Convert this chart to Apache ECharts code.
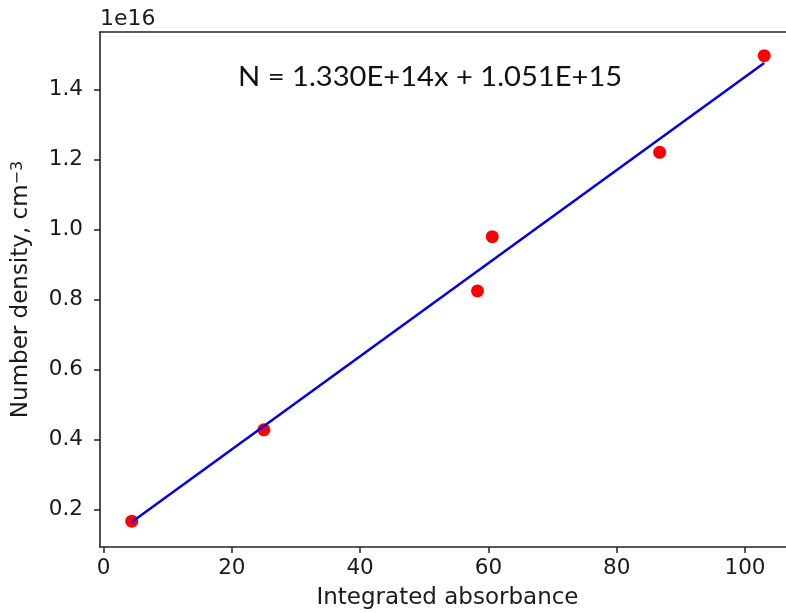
<!DOCTYPE html>
<html>
<head>
<meta charset="utf-8">
<script src="https://cdn.jsdelivr.net/npm/echarts@6/dist/echarts.min.js"></script>
<style>
  html, body { margin: 0; padding: 0; background: #fff; }
  #chart { width: 786px; height: 613px; }
</style>
</head>
<body>
<div id="chart"></div>
<script>
// Measured samples: integrated absorbance vs number density (in units of 1e16 cm^-3)
const absorbance = [4.4, 25.0, 58.3, 60.6, 86.7, 103.0];
const density = [0.166, 0.427, 0.824, 0.979, 1.220, 1.496];

// Linear fit N = slope * x + intercept (cm^-3)
const fitSlope = 1.330e14;
const fitIntercept = 1.051e15;
const exponentScale = 1e16;

const xTicks = [0, 20, 40, 60, 80, 100];
const yTicks = [0.2, 0.4, 0.6, 0.8, 1.0, 1.2, 1.4];

const fitLabel = 'N = 1.330E+14x + 1.051E+15';

const xMinData = Math.min(...absorbance);
const xMaxData = Math.max(...absorbance);
const fitLine = [xMinData, xMaxData].map(x => [x, (fitSlope * x + fitIntercept) / exponentScale]);

const ink = '#1a1a1a';
const spine = { show: true, onZero: false, lineStyle: { color: '#222', width: 1.6 } };
const tickFont = { fontFamily: 'DejaVu Sans', fontSize: 21.5, color: ink };
const titleFont = { fontFamily: 'DejaVu Sans', fontSize: 23, color: ink };
const xRange = { min: -0.55, max: 107.8 };

const chart = echarts.init(document.getElementById('chart'), null, { renderer: 'canvas' });
chart.setOption({
  animation: false,
  backgroundColor: '#ffffff',
  grid: {
    left: 100, top: 32, right: -9, bottom: 66,
    containLabel: false,
    outerBoundsMode: 'none',
    show: false
  },
  xAxis: [
    Object.assign({
      type: 'value',
      position: 'bottom',
      axisLine: spine,
      splitLine: { show: false },
      axisTick: { show: true, length: 6, lineStyle: { color: '#222', width: 1.5 }, customValues: xTicks },
      axisLabel: Object.assign({ margin: 10, customValues: xTicks }, tickFont),
      name: 'Integrated absorbance',
      nameLocation: 'middle',
      nameGap: 40,
      nameTextStyle: titleFont
    }, xRange),
    // top spine only
    Object.assign({
      type: 'value',
      position: 'top',
      axisLine: spine,
      axisTick: { show: false },
      axisLabel: { show: false },
      splitLine: { show: false }
    }, xRange)
  ],
  yAxis: {
    type: 'value',
    position: 'left',
    min: 0.0923, max: 1.5637,
    axisLine: spine,
    splitLine: { show: false },
    axisTick: { show: true, length: 6, lineStyle: { color: '#222', width: 1.5 }, customValues: yTicks },
    axisLabel: Object.assign({ margin: 17, customValues: yTicks, formatter: v => v.toFixed(1) }, tickFont),
    name: 'Number density, cm{sup|\u22123}',
    nameLocation: 'middle',
    nameRotate: 90,
    nameGap: 67,
    nameTextStyle: Object.assign({
      rich: { sup: { fontFamily: 'DejaVu Sans', fontSize: 16, color: ink, verticalAlign: 'top', lineHeight: 16 } }
    }, titleFont)
  },
  graphic: [
    { type: 'text', left: 100, top: 8, style: { text: '1e16', font: '22px "DejaVu Sans"', fill: ink } },
    {
      type: 'text', x: 238, y: 78, scaleX: 1.12,
      style: { text: fitLabel, font: '26px Lato', fill: '#111', textAlign: 'left', textVerticalAlign: 'middle' }
    }
  ],
  series: [
    {
      type: 'scatter',
      xAxisIndex: 0,
      data: absorbance.map((x, i) => [x, density[i]]),
      symbol: 'circle',
      symbolSize: 13,
      itemStyle: { color: '#ff0000', opacity: 1 },
      z: 2
    },
    {
      type: 'line',
      xAxisIndex: 0,
      data: fitLine,
      showSymbol: false,
      lineStyle: { color: '#0000e6', width: 2.5 },
      z: 3
    }
  ]
});
</script>
</body>
</html>
